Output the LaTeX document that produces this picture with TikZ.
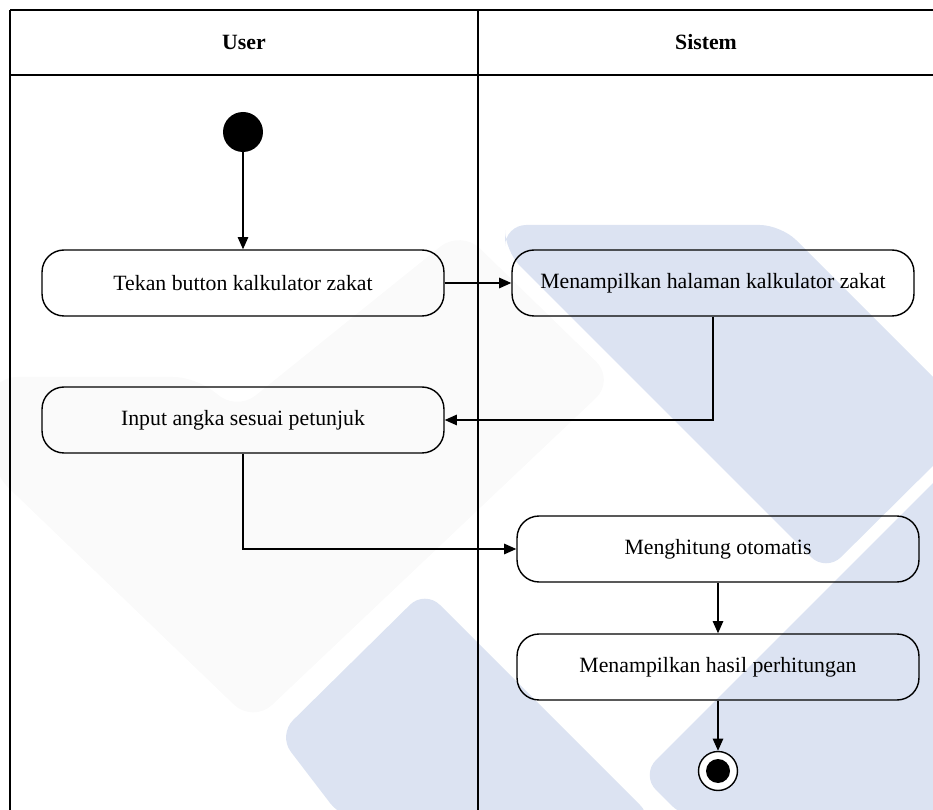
\documentclass[tikz,border=0pt]{standalone}
\usepackage{fontspec}
\setmainfont{Liberation Serif}
\usetikzlibrary{arrows.meta,positioning}
\definecolor{wmblue}{RGB}{220,227,242}
\definecolor{wmgrey}{RGB}{250,250,250}
\tikzset{
  activity/.style={draw, rounded corners=12.5pt, minimum width=8.04cm, minimum height=1.32cm,
    line width=0.8pt, font=\fontsize{12.4}{15}\selectfont},
  initial/.style={circle, fill=black, minimum size=0.8cm, inner sep=0pt},
  final/.style={circle, draw, fill=white, line width=0.8pt, minimum size=0.78cm, inner sep=0pt,
    path picture={\fill[black] (path picture bounding box.center) circle (0.24cm);}},
  lanehead/.style={font=\bfseries\fontsize{12.4}{15}\selectfont},
  lane/.style={line width=1.1pt},
  flow/.style={line width=0.8pt, -{Triangle[length=7pt,width=6pt]}},
}
\begin{document}
\begin{tikzpicture}[x=0.02cm,y=-0.02cm]
\useasboundingbox (0,0) rectangle (933,810);
% watermark
\fill[wmgrey, rounded corners=15pt] (-10,377) -- (200,377) -- (235,412) -- (461,230) -- (615,380) -- (253,723) -- (-10,470) -- cycle;
\fill[wmblue, rounded corners=12pt] (505,225) -- (781,225) -- (950,394) -- (950,449) -- (826,572) -- (505,251) -- cycle;
\fill[wmblue, rounded corners=12pt] (425,590) -- (655,820) -- (343,820) -- (278,735) -- cycle;
\fill[wmblue, rounded corners=12pt] (950,466) -- (950,820) -- (686,820) -- (641,775) -- cycle;
% swimlanes
\draw[lane] (10,10) -- (933,10);
\draw[lane] (10,75) -- (933,75);
\draw[lane] (10,10) -- (10,810);
\draw[lane] (478,10) -- (478,810);
\node[lanehead] (user) at (244,42) {User};
\node[lanehead] (sistem) at (706,42) {Sistem};
% activities
\node[initial] (start) at (243,132) {};
\node[activity] (tekan) at (243,283) {Tekan button kalkulator zakat};
\node[activity] (tampil) at (713,283) {Menampilkan halaman kalkulator zakat};
\node[activity] (input) at (243,420) {Input angka sesuai petunjuk};
\node[activity] (hitung) at (718,549) {Menghitung otomatis};
\node[activity] (hasil) at (718,667) {Menampilkan hasil perhitungan};
\node[final] (end) at (718,771) {};
\draw[flow] (start) -- (tekan);
\draw[flow] (tekan) -- (tampil);
\draw[flow] (tampil) |- (input);
\draw[flow] (input) |- (hitung);
\draw[flow] (hitung) -- (hasil);
\draw[flow] (hasil) -- (end);
\end{tikzpicture}
\end{document}
